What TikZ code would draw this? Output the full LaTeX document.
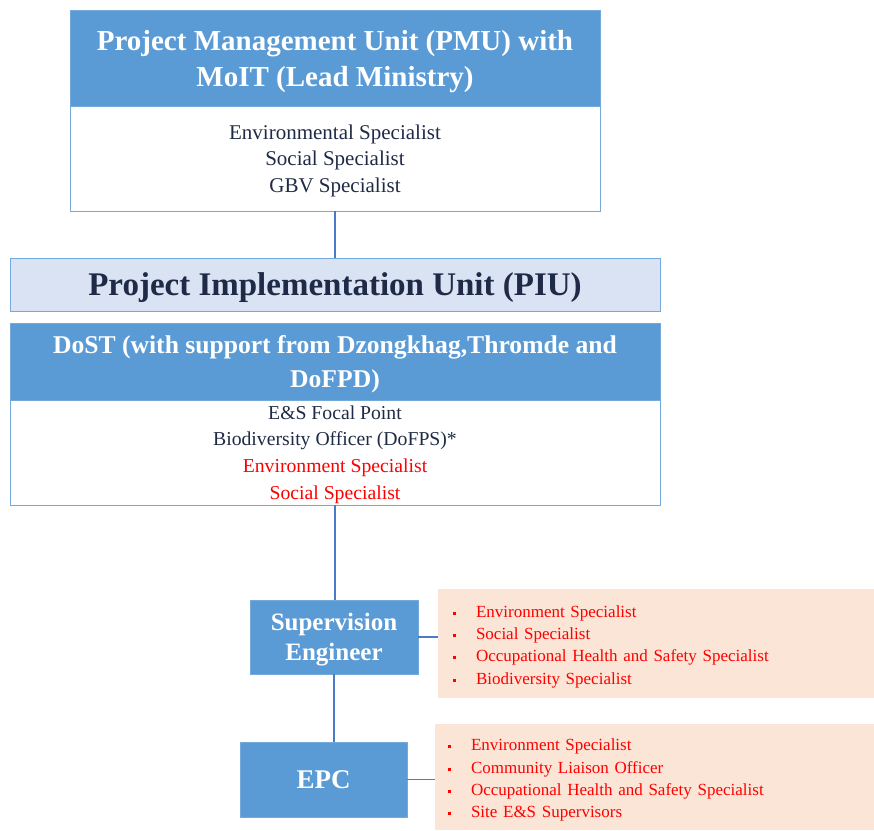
\documentclass[tikz,border=0pt]{standalone}
\usepackage{fontspec}
\setmainfont{Liberation Serif}
\usepackage{xcolor}
\usetikzlibrary{positioning}

\definecolor{hdrblue}{HTML}{5B9BD5}
\definecolor{piufill}{HTML}{DAE3F3}
\definecolor{peach}{HTML}{FBE5D6}
\definecolor{navy}{HTML}{1F2B46}
\definecolor{linkblue}{HTML}{4A7BC8}

\newcommand{\bul}{\makebox[23pt][l]{\rule[0.3ex]{3pt}{3pt}}}

\begin{document}
\begin{tikzpicture}[x=1pt, y=-1pt,
    every node/.style={inner sep=0pt, outer sep=0pt, align=center, text=navy},
    hdr/.style={draw=hdrblue!85!white, fill=hdrblue, text=white, anchor=north west, text depth=0pt,
                font=\fontsize{29}{36}\selectfont\bfseries},
    body/.style={draw=hdrblue!85!white, fill=white, anchor=north west, text depth=0pt,
                 font=\fontsize{19.7}{26.8}\selectfont},
    unit/.style={draw=hdrblue!85!white, fill=hdrblue, text=white, anchor=north west, text depth=0pt,
                 font=\fontsize{25}{30}\selectfont\bfseries},
    team/.style={fill=peach, anchor=north west, align=left, text=red, text height=18pt,
                 font=\fontsize{17}{22.3}\selectfont},
    link/.style={draw=linkblue, line width=1.2pt}]

  \useasboundingbox (0,0) rectangle (874,830);

  % PMU
  \node[hdr, minimum width=530, minimum height=96] (pmuhead) at (70,10)
    {Project Management Unit (PMU) with\\MoIT (Lead Ministry)};
  \node[body, minimum width=530, minimum height=105, font=\fontsize{21}{26.5}\selectfont] (pmubody) at (70,106)
    {Environmental Specialist\\Social Specialist\\GBV Specialist};

  % PIU
  \node[draw=hdrblue!85!white, fill=piufill, anchor=north west, minimum width=650, minimum height=53,
        text depth=0pt, font=\fontsize{33}{36}\selectfont\bfseries] (piu) at (10,258)
    {Project Implementation Unit (PIU)};

  \node[hdr, minimum width=650, minimum height=77, font=\fontsize{25.6}{34}\selectfont\bfseries] (dosthead) at (10,323)
    {DoST (with support from Dzongkhag,Thromde and\\DoFPD)};
  \node[body, minimum width=650, minimum height=105] (dostbody) at (10,400)
    {E\&S Focal Point\\Biodiversity Officer (DoFPS)*\\
     \textcolor{red}{Environment Specialist}\\\textcolor{red}{Social Specialist}};

  % supervision and contractor
  \node[unit, minimum width=168, minimum height=74] (supeng) at (250,600)
    {Supervision\\Engineer};
  \node[team, minimum width=436, minimum height=109, text width=421, inner xsep=15pt] (supteam) at (438,589)
    {\bul Environment Specialist\\\bul Social Specialist\\
     \bul Occupational Health and Safety Specialist\\\bul Biodiversity Specialist};

  \node[unit, minimum width=167, minimum height=75, font=\fontsize{27}{30}\selectfont\bfseries] (epc) at (240,742) {EPC};
  \node[team, minimum width=439, minimum height=106, text width=426, inner xsep=13pt] (epcteam) at (435,724)
    {\bul Environment Specialist\\\bul Community Liaison Officer\\
     \bul Occupational Health and Safety Specialist\\\bul Site E\&S Supervisors};

  % connectors
  \draw[link] (pmubody.south) -- (piu.north);
  \draw[link] (dostbody.south) -- (dostbody.south |- supeng.north);
  \draw[link] (supeng.south) -- (supeng.south |- epc.north);
  \draw[link] (supeng.east) -- (supeng.east -| supteam.west);
  \draw[link] (epc.east) -- (epc.east -| epcteam.west);

\end{tikzpicture}
\end{document}
